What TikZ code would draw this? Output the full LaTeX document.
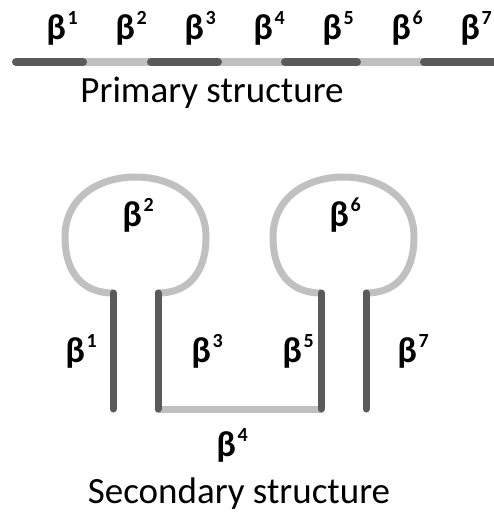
\documentclass[tikz,border=0pt]{standalone}
\usepackage{fontspec}
\setmainfont{Carlito}
\definecolor{strandgray}{RGB}{90,90,90}
\definecolor{loopgray}{RGB}{192,192,192}
\usetikzlibrary{positioning}
\newcommand{\betaup}[1]{β\hspace{1.5pt}\raisebox{15pt}{\fontsize{20}{20}\selectfont #1}}

\begin{document}
\begin{tikzpicture}[x=1pt,y=-1pt,
      strand/.style={draw=strandgray,line width=7pt,line cap=round},
      turn/.style={draw=loopgray,line width=7pt,line cap=round},
      betalabel/.style={font=\fontsize{36}{38}\selectfont\bfseries,
                        inner sep=0pt,anchor=base},
      caption/.style={font=\fontsize{37}{42}\selectfont,inner sep=0pt,anchor=base}]
    \useasboundingbox (0,0) rectangle (494,513);
    % primary structure
    \coordinate (p0) at (16,62);
    \coordinate (p1) at (83,62);
    \coordinate (p2) at (151,62);
    \coordinate (p3) at (218,62);
    \coordinate (p4) at (285,62);
    \coordinate (p5) at (357,62);
    \coordinate (p6) at (424,62);
    \coordinate (p7) at (500,62);
    \draw[turn,line width=8pt,line cap=butt] (p1) -- (p2) (p3) -- (p4) (p5) -- (p6);
    \draw[strand,line width=8pt] (p0) -- (p1) (p2) -- (p3) (p4) -- (p5) (p6) -- (p7);
    \foreach \k/\x in {1/62,2/131,3/200,4/269,5/338,6/407,7/476}
      \node[betalabel] (b\k) at (\x,40) {\betaup{\k}};
    \node[caption] (primary) at (212,103) {Primary structure};
    % secondary structure
    \coordinate (s1a) at (113,409);
    \coordinate (s1b) at (113,293);
    \coordinate (s3a) at (158,293);
    \coordinate (s3b) at (158,409);
    \coordinate (s5a) at (321,409);
    \coordinate (s5b) at (321,293);
    \coordinate (s7a) at (366,293);
    \coordinate (s7b) at (366,409);
    \draw[turn] (s1b) .. controls (82,293) and (65,272) .. (65,237)
                      .. controls (65,198) and (98,177) .. (135.5,177)
                      .. controls (173,177) and (206,198) .. (206,237)
                      .. controls (206,272) and (189,293) .. (s3a);
    \draw[turn] (s5b) .. controls (290,293) and (273,272) .. (273,237)
                      .. controls (273,198) and (306,177) .. (343.5,177)
                      .. controls (381,177) and (414,198) .. (414,237)
                      .. controls (414,272) and (397,293) .. (s7a);
    \draw[turn] (s3b) -- (s5a);
    \draw[strand] (s1a) -- (s1b);
    \draw[strand] (s3a) -- (s3b);
    \draw[strand] (s5a) -- (s5b);
    \draw[strand] (s7a) -- (s7b);
    \node[betalabel] (l1) at (81,362) {\betaup{1}};
    \node[betalabel] (l2) at (138,226) {\betaup{2}};
    \node[betalabel] (l3) at (207,362) {\betaup{3}};
    \node[betalabel] (l4) at (232,456) {\betaup{4}};
    \node[betalabel] (l5) at (298,362) {\betaup{5}};
    \node[betalabel] (l6) at (345,226) {\betaup{6}};
    \node[betalabel] (l7) at (413,362) {\betaup{7}};
    \node[caption] (secondary) at (239,503) {Secondary structure};
  \end{tikzpicture}
\end{document}
